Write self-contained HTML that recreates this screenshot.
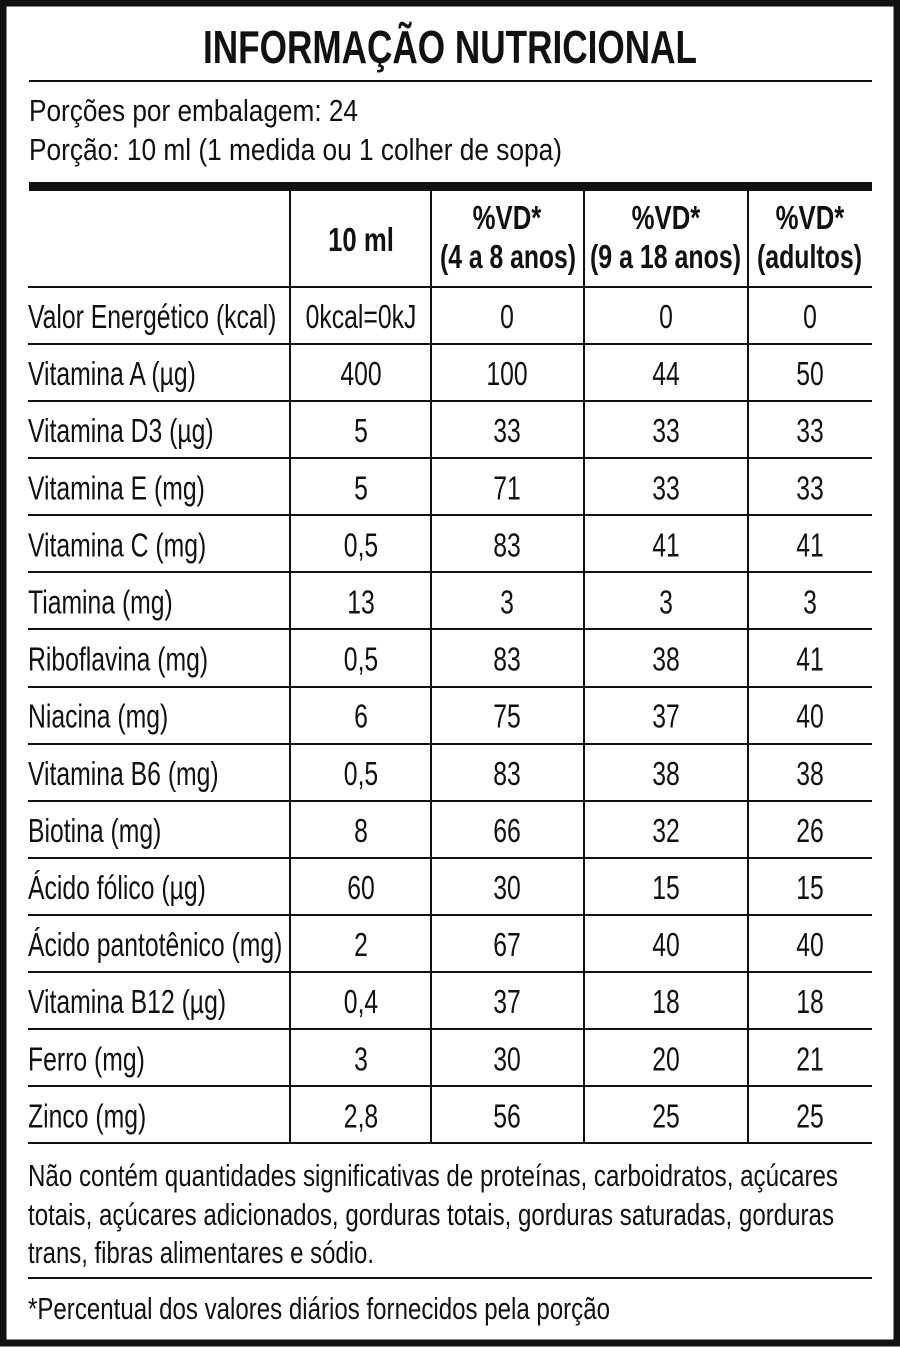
<!DOCTYPE html>
<html><head><meta charset="utf-8"><style>
html,body{margin:0;padding:0;background:#fff;}
svg{display:block;}
text{font-family:"Liberation Sans",Arial,sans-serif;fill:#111;}
</style></head><body>
<svg width="900" height="1349" viewBox="0 0 900 1349" xmlns="http://www.w3.org/2000/svg">
<rect x="0" y="0" width="900" height="1349" fill="#fff"/>
<rect x="3" y="3" width="894" height="1340" fill="none" stroke="#111" stroke-width="7"/>
<text x="203" y="63" font-size="46" font-weight="bold" textLength="494" lengthAdjust="spacingAndGlyphs">INFORMAÇÃO NUTRICIONAL</text>
<line x1="29" y1="81" x2="872" y2="81" stroke="#111" stroke-width="2"/>
<text x="29" y="121" font-size="31" textLength="329" lengthAdjust="spacingAndGlyphs">Porções por embalagem: 24</text>
<text x="29" y="160" font-size="31" textLength="533" lengthAdjust="spacingAndGlyphs">Porção: 10 ml (1 medida ou 1 colher de sopa)</text>
<rect x="29" y="182" width="843" height="9" fill="#111"/>
<g stroke="#111" stroke-width="2">
<line x1="290" y1="191" x2="290" y2="1143"/>
<line x1="431" y1="191" x2="431" y2="1143"/>
<line x1="584" y1="191" x2="584" y2="1143"/>
<line x1="748" y1="191" x2="748" y2="1143"/>
<line x1="28" y1="287" x2="872" y2="287"/>
<line x1="28" y1="344" x2="872" y2="344"/>
<line x1="28" y1="401" x2="872" y2="401"/>
<line x1="28" y1="458" x2="872" y2="458"/>
<line x1="28" y1="515" x2="872" y2="515"/>
<line x1="28" y1="572" x2="872" y2="572"/>
<line x1="28" y1="629" x2="872" y2="629"/>
<line x1="28" y1="687" x2="872" y2="687"/>
<line x1="28" y1="744" x2="872" y2="744"/>
<line x1="28" y1="801" x2="872" y2="801"/>
<line x1="28" y1="858" x2="872" y2="858"/>
<line x1="28" y1="915" x2="872" y2="915"/>
<line x1="28" y1="972" x2="872" y2="972"/>
<line x1="28" y1="1029" x2="872" y2="1029"/>
<line x1="28" y1="1086" x2="872" y2="1086"/>
<line x1="28" y1="1143" x2="872" y2="1143"/>
<line x1="28" y1="1278" x2="872" y2="1278"/>
</g>
<g font-weight="bold" font-size="33" text-anchor="middle">
<text transform="translate(361,251) scale(0.78,1)">10 ml</text>
<text transform="translate(507,229) scale(0.78,1)">%VD*</text>
<text transform="translate(666,229) scale(0.78,1)">%VD*</text>
<text transform="translate(810,229) scale(0.78,1)">%VD*</text>
</g>
<g font-weight="bold" font-size="33">
<text x="440" y="268" textLength="136" lengthAdjust="spacingAndGlyphs">(4 a 8 anos)</text>
<text x="590" y="268" textLength="151" lengthAdjust="spacingAndGlyphs">(9 a 18 anos)</text>
<text x="757" y="268" textLength="105" lengthAdjust="spacingAndGlyphs">(adultos)</text>
</g>
<g font-size="33" id="rows">
</g>
<script>
var rows=[["Valor Energético (kcal)","0kcal=0kJ","0","0","0"],["Vitamina A (µg)","400","100","44","50"],["Vitamina D3 (µg)","5","33","33","33"],["Vitamina E (mg)","5","71","33","33"],["Vitamina C (mg)","0,5","83","41","41"],["Tiamina (mg)","13","3","3","3"],["Riboflavina (mg)","0,5","83","38","41"],["Niacina (mg)","6","75","37","40"],["Vitamina B6 (mg)","0,5","83","38","38"],["Biotina (mg)","8","66","32","26"],["Ácido fólico (µg)","60","30","15","15"],["Ácido pantotênico (mg)","2","67","40","40"],["Vitamina B12 (µg)","0,4","37","18","18"],["Ferro (mg)","3","30","20","21"],["Zinco (mg)","2,8","56","25","25"]];
var cx=[28,361,507,666,810],g=document.getElementById("rows"),ns="http://www.w3.org/2000/svg";
rows.forEach(function(r,i){var y=287+57.1*i+41;r.forEach(function(s,j){var t=document.createElementNS(ns,"text");t.setAttribute("transform","translate("+cx[j]+","+y.toFixed(1)+") scale(0.75,1)");if(j>0)t.setAttribute("text-anchor","middle");t.textContent=s;g.appendChild(t);});});
</script>
<g font-size="31">
<text x="28" y="1186" textLength="810" lengthAdjust="spacingAndGlyphs">Não contém quantidades significativas de proteínas, carboidratos, açúcares</text>
<text x="28" y="1225" textLength="806" lengthAdjust="spacingAndGlyphs">totais, açúcares adicionados, gorduras totais, gorduras saturadas, gorduras</text>
<text x="28" y="1263" textLength="346" lengthAdjust="spacingAndGlyphs">trans, fibras alimentares e sódio.</text>
<text x="28" y="1319" textLength="582" lengthAdjust="spacingAndGlyphs">*Percentual dos valores diários fornecidos pela porção</text>
</g>
</svg>
</body></html>
